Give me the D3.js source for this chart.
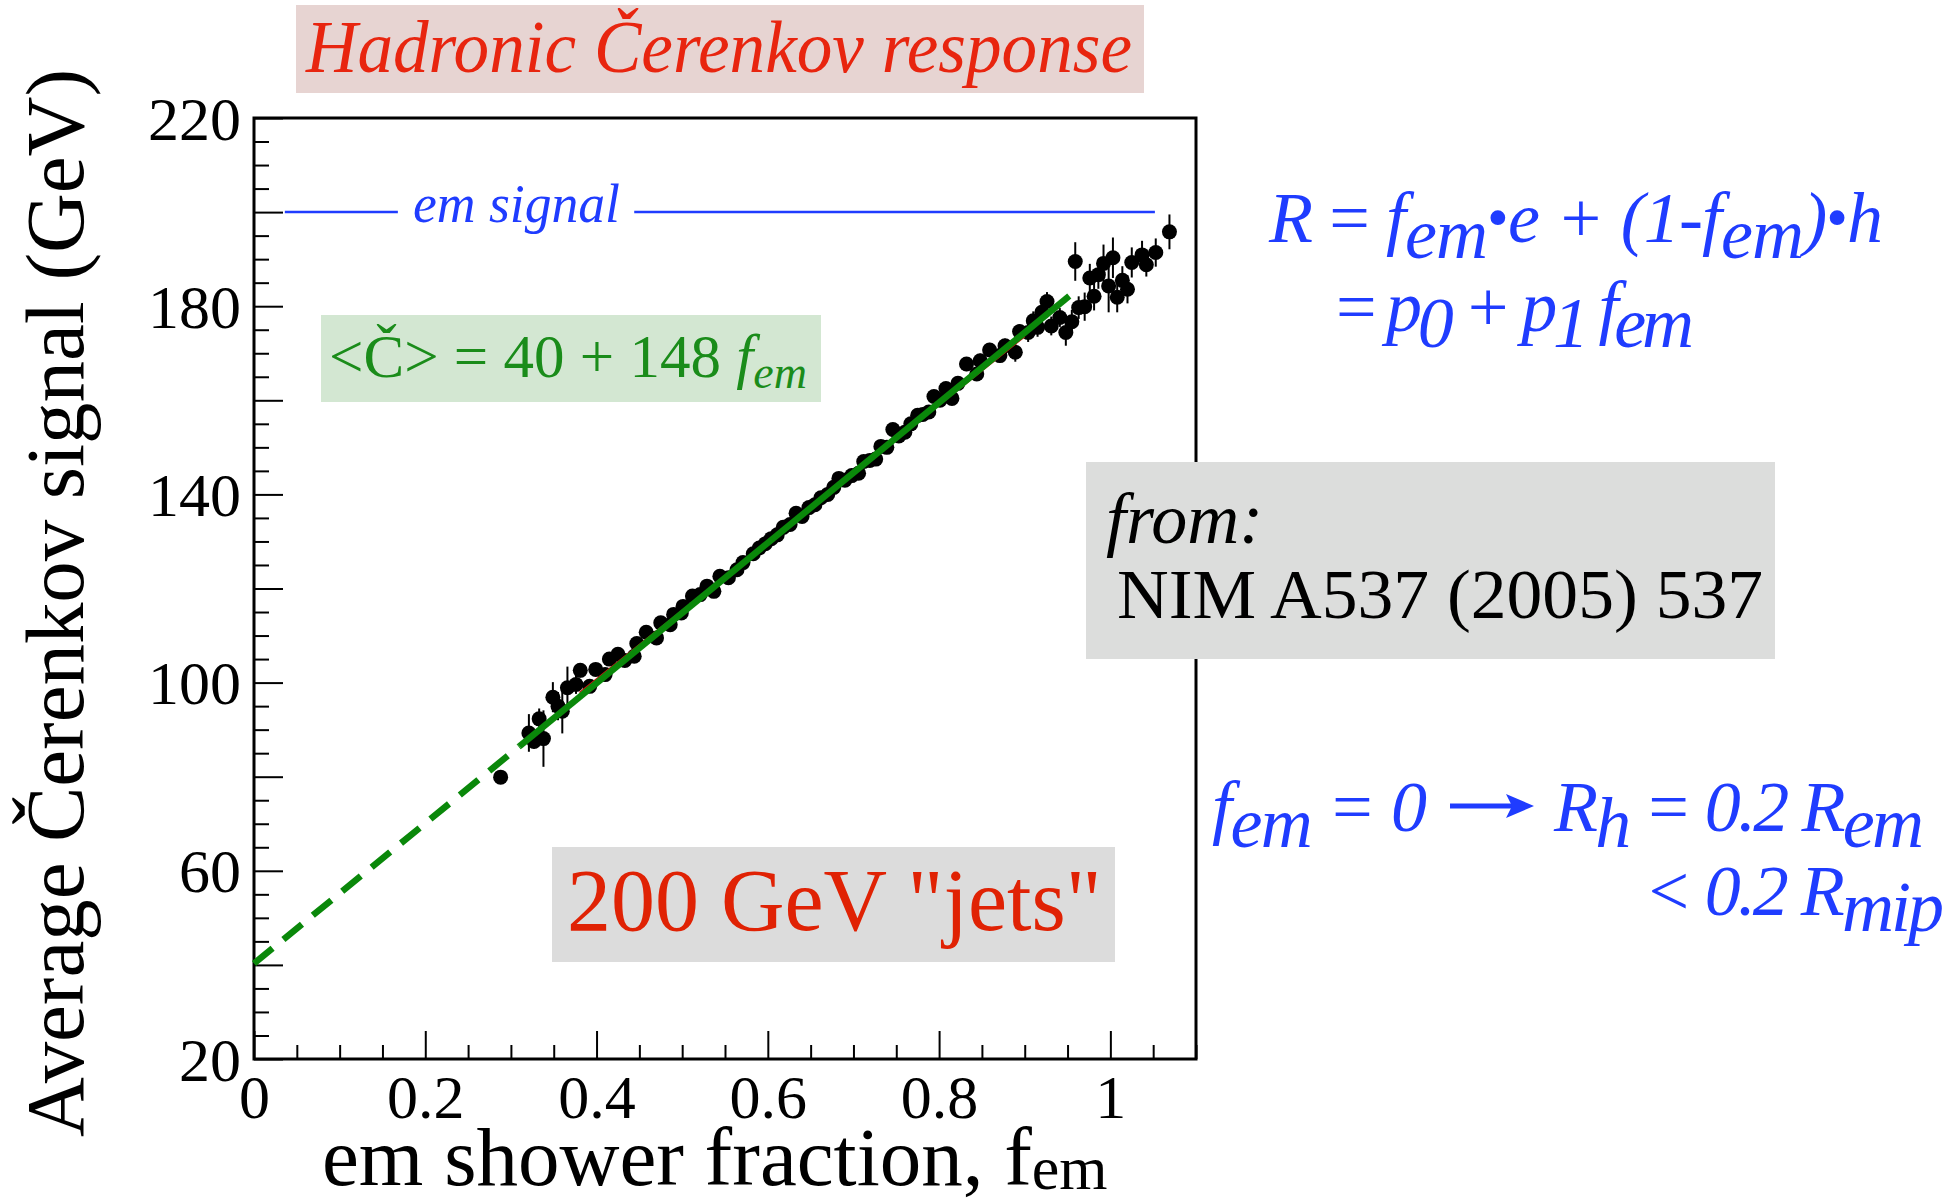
<!DOCTYPE html>
<html><head><meta charset="utf-8">
<script src="https://cdn.jsdelivr.net/npm/d3@7"></script>
<style>body{margin:0;background:#fff}</style>
</head><body>
<svg id="c" width="1960" height="1204"></svg>
<script>
// ---------------- data ----------------
const femValues = [
  0.288,0.321,0.327,0.333,0.338,0.349,0.355,0.360,0.366,0.376,0.381,0.392,0.399,0.410,0.415,0.425,0.433,
  0.444,0.447,0.458,0.470,0.475,0.486,0.490,0.499,0.501,0.512,0.521,0.529,0.537,0.544,0.554,0.564,0.571,
  0.583,0.590,0.597,0.604,0.611,0.618,0.626,0.633,0.640,0.648,0.655,0.662,0.670,0.677,0.683,0.690,0.698,
  0.706,0.712,0.719,0.726,0.732,0.739,0.746,0.753,0.760,0.767,0.775,0.781,0.788,0.794,0.801,0.808,0.815,0.822,
  0.832,0.844,0.848,0.859,0.871,0.877,0.889,0.894,0.904,0.910,0.915,0.920,0.926,0.931,0.941,0.948,0.955,
  0.959,0.963,0.970,0.976,0.981,0.986,0.992,0.998,1.003,1.008,1.014,1.020,1.025,1.037,1.042,1.053,1.069
];
const cerenkovSignal = [
  79.9,89.3,87.5,92.3,88.1,96.9,95.0,93.9,98.9,99.6,102.6,99.2,102.8,101.7,105.0,106.0,104.7,
  105.6,108.3,110.7,109.5,112.7,112.3,114.5,114.8,116.2,118.4,118.7,120.5,119.4,122.6,122.3,124.0,125.5,
  127.4,128.6,129.5,130.6,131.4,133.0,133.6,136.0,135.3,137.2,137.8,139.3,140.0,141.5,143.4,143.0,144.0,
  144.5,147.0,147.2,147.5,150.2,150.0,153.8,152.4,153.2,155.0,156.8,157.0,157.5,160.8,160.0,162.5,160.4,163.6,
  167.7,165.6,168.4,170.7,169.5,171.6,170.2,174.6,174.4,176.9,175.5,178.7,181.0,175.8,177.6,174.4,176.7,
  189.5,179.7,179.9,186.0,182.1,186.7,189.1,184.3,190.3,181.9,185.5,183.6,189.3,190.9,188.8,191.4,195.8
];
const signalError = [
  1.0,4.0,1.5,2.2,6.0,3.2,3.0,4.7,4.5,2.0,1.5,1.2,1.0,1.0,1.0,1.0,1.0,
  1.0,1.0,1.0,1.0,1.0,1.0,1.0,1.0,1.0,1.0,1.0,1.0,1.0,1.0,1.0,1.0,1.0,
  1.2,1.2,1.2,1.2,1.2,1.2,1.2,1.2,1.2,1.2,1.2,1.2,1.2,1.2,1.2,1.2,1.2,
  1.2,1.2,1.2,1.2,1.2,1.2,1.2,1.2,1.2,1.2,1.2,1.2,1.2,1.2,1.2,1.2,1.2,1.2,
  1.5,1.5,1.5,1.5,1.5,1.5,2.0,1.5,2.0,2.0,2.0,2.0,2.0,2.0,2.0,2.8,2.5,
  4.1,2.4,3.0,3.0,3.0,3.0,4.0,5.6,4.3,3.2,3.0,3.0,3.2,3.0,2.5,3.0,3.7
];
// fit lines as drawn: [p0, p1]
const greenFit = [40.3, 149.0];
const greenFitRange = [0, 0.31, 0.952];   // dashed from 0 to 0.31, solid to 0.952
const redFit = [42.6, 145.5];
const redFitRange = [0.38, 0.90];
const emSignalLevel = 200;
const emSignalSegments = [[0.036, 0.168], [0.444, 1.052]];
const xDomain = [0, 1.1];
const yDomain = [20, 220];
const xMajorTicks = [0, 0.2, 0.4, 0.6, 0.8, 1.0];
const yMajorTicks = [20, 40, 60, 80, 100, 120, 140, 160, 180, 200, 220];
const yTickLabels = [20, 60, 100, 140, 180, 220];

// ---------------- layout ----------------
const svg = d3.select("#c");
const L = 254, R = 1196, T = 118, B = 1059;
const x = d3.scaleLinear().domain(xDomain).range([L, R]);
const y = d3.scaleLinear().domain(yDomain).range([B, T]);
const serif = "Liberation Serif, Times New Roman, serif";

svg.append("rect").attr("width",1960).attr("height",1204).attr("fill","#fff");

// title
svg.append("rect").attr("x",296).attr("y",5).attr("width",848).attr("height",88).attr("fill","#e7d4d2");
svg.append("text").attr("x",306).attr("y",72).attr("font-family",serif).attr("font-style","italic")
  .attr("font-size",74).attr("fill","#e8250f").attr("textLength",826).attr("lengthAdjust","spacingAndGlyphs")
  .text("Hadronic Čerenkov response");

// axes ticks
const minorX = d3.range(0, 1.1001, 0.05).filter(v => !xMajorTicks.some(m => Math.abs(m - v) < 1e-6));
const minorY = d3.range(20, 220.01, 5).filter(v => v % 20 !== 0);

const gx = svg.append("g").attr("transform",`translate(0,${B})`);
gx.call(d3.axisBottom(x).tickValues(minorX).tickSizeInner(-14).tickSizeOuter(0).tickFormat(""));
gx.append("g").call(d3.axisBottom(x).tickValues(xMajorTicks).tickSizeInner(-28).tickSizeOuter(0)
  .tickPadding(15).tickFormat(d3.format("~g")));
const gy = svg.append("g").attr("transform",`translate(${L},0)`);
gy.call(d3.axisLeft(y).tickValues(minorY).tickSizeInner(-15).tickSizeOuter(0).tickFormat(""));
gy.append("g").call(d3.axisLeft(y).tickValues(yMajorTicks).tickSizeInner(-29).tickSizeOuter(0)
  .tickPadding(13).tickFormat(d => yTickLabels.includes(d) ? d : ""));
svg.selectAll(".domain").remove();
svg.selectAll(".tick text").filter(function(){ return this.textContent === ""; }).remove();
svg.selectAll(".tick line").attr("stroke","#000").attr("stroke-width",2);
svg.selectAll(".tick text").attr("font-family",serif).attr("font-size",62).attr("fill","#000");
gy.selectAll(".tick text").attr("dy","0.34em");

// frame
svg.append("rect").attr("x",L).attr("y",T).attr("width",R-L).attr("height",B-T)
  .attr("fill","none").attr("stroke","#000").attr("stroke-width",3);

// em signal line
const blue = "#1f3cff";
emSignalSegments.forEach(s => {
  svg.append("line").attr("x1",x(s[0])).attr("x2",x(s[1])).attr("y1",y(emSignalLevel)).attr("y2",y(emSignalLevel))
    .attr("stroke",blue).attr("stroke-width",2.5);
});
svg.append("text").attr("x",413).attr("y",222).attr("font-family",serif).attr("font-style","italic")
  .attr("font-size",54).attr("fill",blue).attr("textLength",207).attr("lengthAdjust","spacingAndGlyphs").text("em signal");

// green formula box
svg.append("rect").attr("x",321).attr("y",315).attr("width",500).attr("height",87).attr("fill","#d3e7d2");
const gt = svg.append("text").attr("x",329).attr("y",377).attr("font-family",serif).attr("font-size",61)
  .attr("fill","#1a8c1a").attr("textLength",478).attr("lengthAdjust","spacing");
gt.append("tspan").text("<Č> =  40 + 148 ");
gt.append("tspan").attr("font-style","italic").text("f");
gt.append("tspan").attr("font-style","italic").attr("font-size",46).attr("dy",11).text("em");

// data points
const pts = femValues.map((f,i) => ({f, v: cerenkovSignal[i], e: signalError[i]}));
const gp = svg.append("g");
gp.selectAll("line").data(pts).join("line")
  .attr("x1",d=>x(d.f)).attr("x2",d=>x(d.f)).attr("y1",d=>y(d.v-d.e)).attr("y2",d=>y(d.v+d.e))
  .attr("stroke","#000").attr("stroke-width",2);
gp.selectAll("circle").data(pts).join("circle")
  .attr("cx",d=>x(d.f)).attr("cy",d=>y(d.v)).attr("r",7.5).attr("fill","#000");

// fit lines
const fitVal = (p,f) => p[0] + p[1]*f;
svg.append("line").attr("x1",x(redFitRange[0])).attr("y1",y(fitVal(redFit,redFitRange[0])))
  .attr("x2",x(redFitRange[1])).attr("y2",y(fitVal(redFit,redFitRange[1])))
  .attr("stroke","#d01010").attr("stroke-width",1.5);
svg.append("line").attr("x1",x(greenFitRange[0])).attr("y1",y(fitVal(greenFit,greenFitRange[0])))
  .attr("x2",x(greenFitRange[1])).attr("y2",y(fitVal(greenFit,greenFitRange[1])))
  .attr("stroke","#0a880a").attr("stroke-width",6.5).attr("stroke-dasharray","24 14");
svg.append("line").attr("x1",x(greenFitRange[1])).attr("y1",y(fitVal(greenFit,greenFitRange[1])))
  .attr("x2",x(greenFitRange[2])).attr("y2",y(fitVal(greenFit,greenFitRange[2])))
  .attr("stroke","#0a880a").attr("stroke-width",6.5);

// 200 GeV jets box
svg.append("rect").attr("x",552).attr("y",847).attr("width",563).attr("height",115).attr("fill","#dcdcdc");
svg.append("text").attr("x",567).attr("y",930).attr("font-family",serif).attr("font-size",88)
  .attr("fill","#e02204").text('200 GeV "jets"');

// reference box
svg.append("rect").attr("x",1086).attr("y",462).attr("width",689).attr("height",197).attr("fill","#dcdddc");
svg.append("text").attr("x",1106).attr("y",543).attr("font-family",serif).attr("font-style","italic")
  .attr("font-size",72).attr("fill","#000").text("from:");
svg.append("text").attr("x",1117).attr("y",618).attr("font-family",serif)
  .attr("font-size",70).attr("fill","#000").attr("textLength",646).attr("lengthAdjust","spacingAndGlyphs")
  .text("NIM A537 (2005) 537");

// axis titles
svg.append("text").attr("transform","translate(83,603) rotate(-90)").attr("text-anchor","middle")
  .attr("font-family",serif).attr("font-size",83).attr("fill","#000")
  .attr("textLength",1068).attr("lengthAdjust","spacingAndGlyphs").text("Average Čerenkov signal (GeV)");
const xt = svg.append("text").attr("x",322).attr("y",1185).attr("font-family",serif).attr("font-size",83).attr("fill","#000");
xt.append("tspan").text("em shower fraction, f");
xt.append("tspan").attr("font-size",62).attr("dy",4).text("em");

// blue equations
function eq(xp, yp, len, parts) {
  const t = svg.append("text").attr("x",xp).attr("y",yp).attr("font-family",serif).attr("font-style","italic")
    .attr("font-size",72).attr("fill",blue).attr("textLength",len).attr("lengthAdjust","spacing");
  let shift = 0;
  parts.forEach(p => {
    const s = t.append("tspan").text(p[0]);
    const target = p[1] || 0;
    if (target !== shift) { s.attr("dy", target - shift); shift = target; }
    if (p[2]) s.attr("font-size", p[2]);
    if (p[3]) s.attr("font-style", p[3]);
  });
  return t;
}
eq(1269, 242, 614, [["R "],["= ",0,null,"normal"],["f"],["em",16],["•",-4,62,"normal"],["e + ",0],["(1-"],["f"],["em",16],[")",0],["•",-4,62,"normal"],["h",0]]);
eq(1336, 331, 358, [["= ",0,null,"normal"],["p"],["0",16],[" + ",0],["p"],["1",16],[" f",0],["em",16]]);
eq(1212, 831, 215, [["f"],["em",16],[" = 0",0]]);
eq(1554, 831, 370, [["R"],["h",16],[" = 0.2 R",0],["em",16]]);
eq(1644, 915, 300, [["< 0.2 R"],["mip",16]]);
// arrow
svg.append("line").attr("x1",1450).attr("x2",1512).attr("y1",806).attr("y2",806).attr("stroke",blue).attr("stroke-width",5);
svg.append("path").attr("d","M1534,806 L1506,794 L1512,806 L1506,818 Z").attr("fill",blue);
</script>
</body></html>
